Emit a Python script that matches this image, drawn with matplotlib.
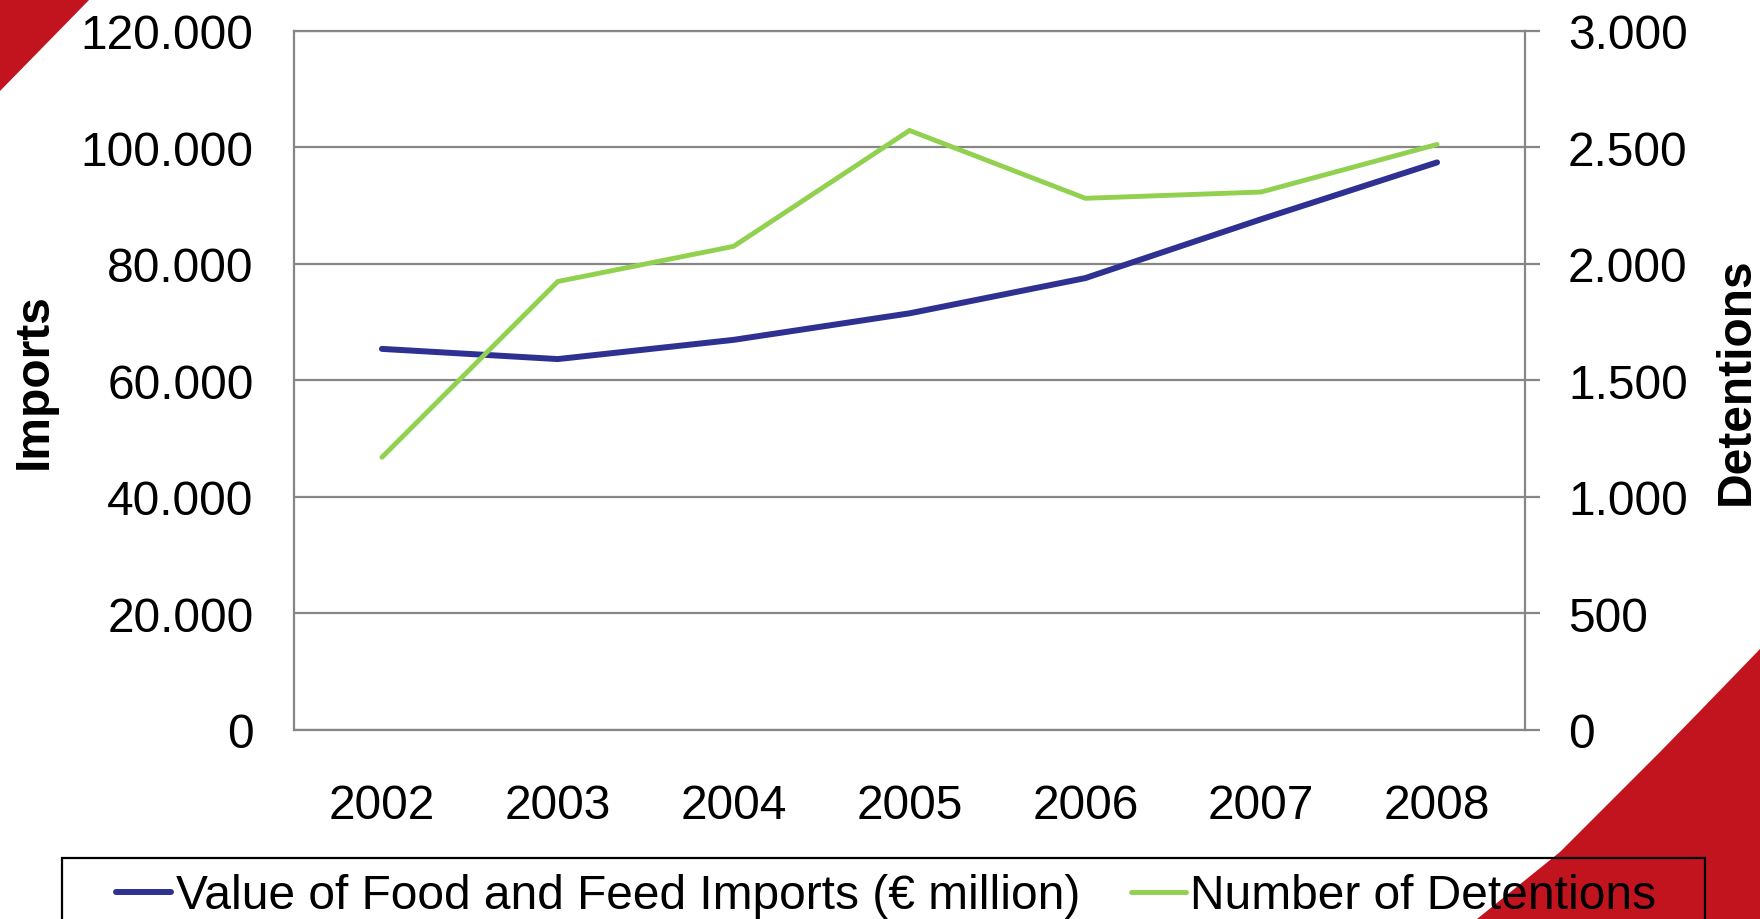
import numpy as np
import matplotlib
matplotlib.use('Agg')
import matplotlib.pyplot as plt
from matplotlib.ticker import FuncFormatter
from matplotlib.patches import Polygon, Rectangle

plt.rcParams['font.family'] = ['Liberation Sans', 'DejaVu Sans']

years = ['2002', '2003', '2004', '2005', '2006', '2007', '2008']
imports = [65400, 63650, 66950, 71500, 77550, 87650, 97400]
detentions = [1170, 1924, 2075, 2572, 2281, 2308, 2512]
imports_label = 'Value of Food and Feed Imports (\u20ac million)'
detentions_label = 'Number of Detentions'

blue = '#2E3192'
green = '#92D050'
red = '#C1141F'
grey = '#868686'
fs = 34.5

W, H = 1760, 920
fig = plt.figure(figsize=(W / 100, H / 100), dpi=100)

def px(x, y):
    # pixel position from top-left -> figure fraction
    return (x / W, 1 - y / H)

# red corner decorations
fig.patches.append(Polygon([px(0, 0), px(90, 0), px(0, 92)], closed=True,
                           transform=fig.transFigure, facecolor=red,
                           edgecolor='none', zorder=0))
fig.patches.append(Polygon([px(1760, 650), px(1700, 712), px(1660, 753),
                            px(1610, 803), px(1560, 853), px(1477, 920),
                            px(1760, 920)], closed=True,
                           transform=fig.transFigure, facecolor=red,
                           edgecolor='none', zorder=0))

left, top, right, bottom = 294, 31.7, 1525, 731
ax = fig.add_axes([left / W, 1 - bottom / H, (right - left) / W, (bottom - top) / H])
ax.set_zorder(2)
x = np.arange(len(years))

ax.plot(x, imports, color=blue, lw=4.3, solid_capstyle='round',
        solid_joinstyle='round', label=imports_label, zorder=3)
ax.set_xlim(-0.5, len(years) - 0.5)
ax.set_ylim(0, 120000)
ax.set_yticks(np.arange(0, 120001, 20000))
ax.yaxis.set_major_formatter(FuncFormatter(lambda v, p: f'{int(v):,}'.replace(',', '.')))
ax.set_xticks(x)
ax.set_xticklabels(years)
ax.tick_params(axis='x', length=0, pad=38, labelsize=fs)
ax.tick_params(axis='y', length=0, pad=29, labelsize=fs)
ax.grid(axis='y', color=grey, lw=1.6)
ax.set_axisbelow(True)
for s in ax.spines.values():
    s.set_color(grey)
    s.set_linewidth(1.6)

ax2 = ax.twinx()
ax2.plot(x, detentions, color=green, lw=3.5, solid_capstyle='round',
         solid_joinstyle='miter', label=detentions_label, zorder=3)
ax2.set_ylim(0, 3000)
ax2.set_yticks(np.arange(0, 3001, 500))
ax2.yaxis.set_major_formatter(FuncFormatter(lambda v, p: f'{int(v):,}'.replace(',', '.')))
ax2.tick_params(axis='y', direction='out', length=11, width=1.6, color=grey,
                pad=20, labelsize=fs)
for s in ax2.spines.values():
    s.set_visible(False)

# axis titles
fig.text(*px(34, 381), 'Imports', fontsize=34.5, fontweight='bold',
         rotation=90, ha='center', va='center')
fig.text(*px(1736, 381), 'Detentions', fontsize=34.5, fontweight='bold',
         rotation=90, ha='center', va='center')

# legend frame (runs off the bottom of the picture)
fig.patches.append(Rectangle(px(62, 990), (1705 - 62) / W, (990 - 859) / H,
                             transform=fig.transFigure, facecolor='none',
                             edgecolor='black', lw=1.6, zorder=4))
handles = ax.get_lines() + ax2.get_lines()
fig.legend(handles, [h.get_label() for h in handles], loc='center left',
           bbox_to_anchor=px(116, 897), ncol=2, frameon=False, fontsize=fs,
           borderpad=0, borderaxespad=0, handlelength=1.15, handletextpad=0.1,
           columnspacing=1.05)

fig.savefig('out.png', dpi=100, facecolor='white')
